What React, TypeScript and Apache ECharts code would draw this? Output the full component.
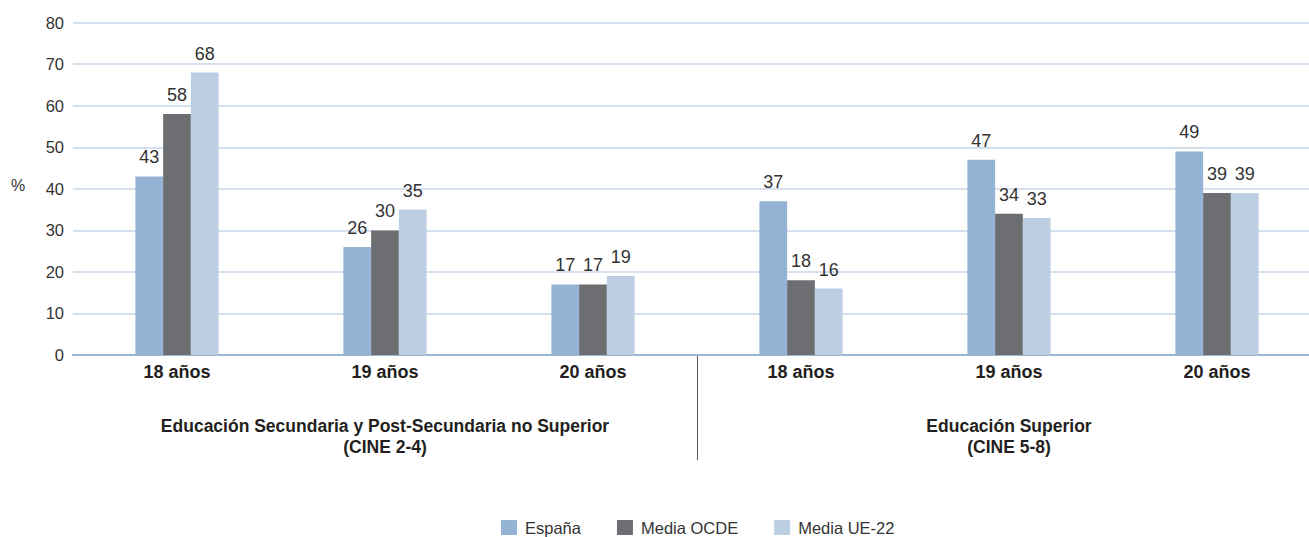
import React, { useEffect, useRef } from "react";
import * as echarts from "echarts";

const ageLabels = ["18 años", "19 años", "20 años", "18 años", "19 años", "20 años"];
const groupLabels = [
  "Educación Secundaria y Post-Secundaria no Superior\n(CINE 2-4)",
  "Educación Superior\n(CINE 5-8)",
];
const groupSizes = [3, 3];
const seriesNames = ["España", "Media OCDE", "Media UE-22"];
const espana = [43, 26, 17, 37, 47, 49];
const mediaOCDE = [58, 30, 17, 18, 34, 39];
const mediaUE22 = [68, 35, 19, 16, 33, 39];
const colors = ["#95b3d5", "#6d6e71", "#bccee2"];

const FONT = "'Liberation Sans', Arial, sans-serif";

export default function App() {
  const ref = useRef<HTMLDivElement>(null);
  useEffect(() => {
    if (!ref.current) return;
    const chart = echarts.init(ref.current, null, { renderer: "svg" });
    const values = [espana, mediaOCDE, mediaUE22];
    const pctText = {
      type: "text",
      left: 11,
      top: 177,
      style: { text: "%", fontSize: 16, fill: "#333", fontFamily: FONT },
    };
    chart.setOption({
      animation: false,
      textStyle: { fontFamily: FONT },
      grid: { left: 73, right: 0, top: 22.7, bottom: 182, containLabel: false },
      legend: {
        data: seriesNames,
        left: 501,
        top: 519,
        padding: 0,
        itemWidth: 16,
        itemHeight: 15,
        itemGap: 36,
        icon: "rect",
        textStyle: { fontSize: 16.5, color: "#333", fontFamily: FONT, padding: [0, 0, 0, 3] },
      },
      graphic: [pctText],
      xAxis: [
        {
          type: "category",
          data: ageLabels,
          position: "bottom",
          axisLine: { show: true, lineStyle: { color: "#9bb5d2", width: 2 } },
          axisTick: { show: false },
          axisLabel: {
            interval: 0,
            fontSize: 18,
            fontWeight: "bold",
            color: "#231f20",
            margin: 8,
            fontFamily: FONT,
          },
        },
        {
          type: "category",
          data: groupLabels,
          position: "bottom",
          offset: 52,
          axisLine: { show: false },
          axisTick: { show: false },
          axisLabel: {
            interval: 0,
            fontSize: 17.5,
            fontWeight: "bold",
            color: "#231f20",
            lineHeight: 21,
            margin: 8,
            fontFamily: FONT,
          },
        },
      ],
      yAxis: {
        type: "value",
        min: 0,
        max: 80,
        interval: 10,
        axisLine: { show: false },
        axisTick: { show: false },
        splitLine: { lineStyle: { color: "#c6d6e8", width: 1.5 } },
        axisLabel: { fontSize: 16.5, color: "#333", margin: 9, fontFamily: FONT },
      },
      series: seriesNames.map((name, k) => ({
        name,
        type: "bar",
        xAxisIndex: 0,
        data: values[k],
        barGap: "0%",
        barCategoryGap: "60%",
        itemStyle: { color: colors[k] },
        label: {
          show: true,
          position: "top",
          distance: 10,
          fontSize: 18,
          color: "#333",
          fontFamily: FONT,
        },
      })),
    });

    // separator between the two groups, placed from the category scale
    const lastIdx = groupSizes[0] - 1;
    const pA = chart.convertToPixel({ xAxisIndex: 0 }, lastIdx) as number;
    const pB = chart.convertToPixel({ xAxisIndex: 0 }, lastIdx + 1) as number;
    const y0 = chart.convertToPixel({ yAxisIndex: 0 }, 0) as number;
    const sepX = Math.round((pA + pB) / 2) + 0.5;
    chart.setOption({
      graphic: [
        pctText,
        {
          type: "line",
          shape: { x1: sepX, y1: y0, x2: sepX, y2: y0 + 105 },
          style: { stroke: "#555", lineWidth: 1 },
        },
      ],
    });
    return () => chart.dispose();
  }, []);
  return (
    <div
      style={{
        position: "absolute",
        left: 0,
        top: 0,
        width: 1309,
        height: 537,
        overflow: "hidden",
      }}
    >
      <div ref={ref} style={{ width: 1321, height: 537 }} />
    </div>
  );
}
